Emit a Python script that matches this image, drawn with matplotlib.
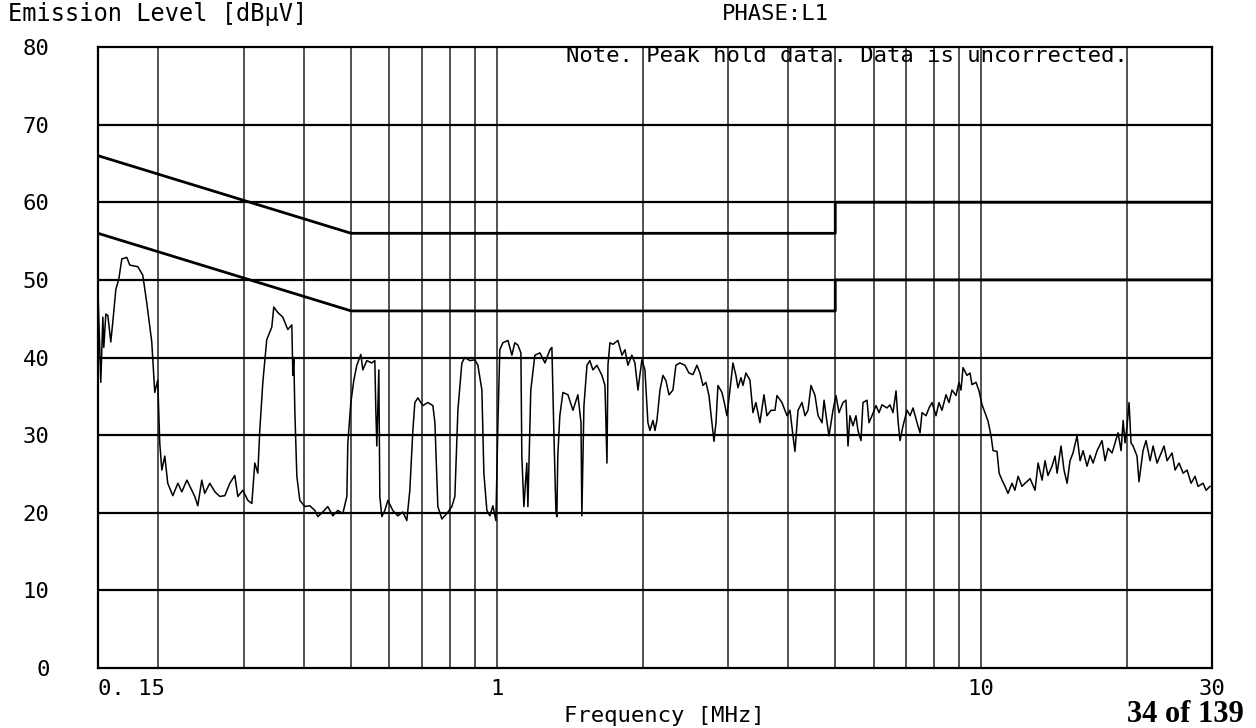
import matplotlib
matplotlib.use("Agg")
import matplotlib.pyplot as plt
from matplotlib.ticker import NullLocator

# peak-hold trace (MHz, dBuV)
freq_mhz = [
    0.150, 0.152, 0.1535, 0.1542, 0.1557, 0.1572, 0.1594, 0.1609, 0.1633, 0.1656,
    0.168, 0.172, 0.1745, 0.1813, 0.1856, 0.1891, 0.1937, 0.1965, 0.1993, 0.2012,
    0.2032, 0.2061, 0.209, 0.2141, 0.2193, 0.2235, 0.2289, 0.2343, 0.2377, 0.2411,
    0.2457, 0.2492, 0.2553, 0.2615, 0.2677, 0.2742, 0.2808, 0.2875, 0.2917, 0.2987,
    0.3059, 0.3118, 0.3162, 0.3208, 0.3238, 0.3285, 0.3347, 0.3428, 0.3461, 0.3527,
    0.3612, 0.3699, 0.3771, 0.3789, 0.3807, 0.3825, 0.3862, 0.3917, 0.4011, 0.4108,
    0.4207, 0.4268, 0.4370, 0.4474, 0.4583, 0.4693, 0.4806, 0.4899, 0.4922, 0.4993,
    0.5065, 0.5137, 0.5236, 0.5286, 0.5387, 0.5516, 0.5596, 0.5623, 0.5650, 0.5704,
    0.5731, 0.5786, 0.5869, 0.5953, 0.6096, 0.6243, 0.6393, 0.6516, 0.6610, 0.6706,
    0.6770, 0.6867, 0.7032, 0.7201, 0.7376, 0.7447, 0.7516, 0.7552, 0.7698, 0.7883,
    0.8073, 0.8189, 0.8307, 0.8466, 0.8588, 0.8794, 0.9006, 0.9136, 0.9312, 0.9400,
    0.9535, 0.9672, 0.9811, 0.9952, 1.005, 1.014, 1.029, 1.054, 1.074, 1.089,
    1.105, 1.121, 1.126, 1.137, 1.153, 1.159, 1.175, 1.198, 1.227, 1.257,
    1.287, 1.299, 1.311, 1.324, 1.330, 1.336, 1.349, 1.369, 1.402, 1.436,
    1.470, 1.492, 1.498, 1.513, 1.535, 1.556, 1.579, 1.609, 1.648, 1.672,
    1.688, 1.696, 1.712, 1.737, 1.778, 1.813, 1.839, 1.865, 1.900, 1.928,
    1.956, 1.993, 2.022, 2.051, 2.071, 2.101, 2.121, 2.141, 2.172, 2.203,
    2.235, 2.267, 2.310, 2.343, 2.388, 2.446, 2.493, 2.541, 2.590, 2.627,
    2.665, 2.703, 2.742, 2.781, 2.808, 2.835, 2.862, 2.917, 2.959, 2.987,
    3.030, 3.073, 3.117, 3.147, 3.192, 3.223, 3.269, 3.332, 3.380, 3.428,
    3.494, 3.562, 3.613, 3.683, 3.753, 3.789, 3.880, 3.974, 4.031, 4.089,
    4.128, 4.188, 4.268, 4.330, 4.392, 4.455, 4.541, 4.607, 4.695, 4.740,
    4.808, 4.853, 4.946, 5.017, 5.089, 5.187, 5.261, 5.312, 5.362, 5.439,
    5.517, 5.570, 5.650, 5.704, 5.814, 5.870, 5.954, 6.069, 6.156, 6.245,
    6.395, 6.486, 6.580, 6.675, 6.738, 6.803, 6.901, 7.034, 7.135, 7.237,
    7.377, 7.482, 7.553, 7.699, 7.809, 7.921, 8.072, 8.188, 8.306, 8.466,
    8.588, 8.711, 8.879, 9.006, 9.092, 9.180, 9.356, 9.491, 9.581, 9.765,
    9.906, 10.05, 10.19, 10.34, 10.49, 10.59, 10.79, 10.90, 11.05, 11.21,
    11.37, 11.59, 11.75, 11.93, 12.15, 12.33, 12.63, 12.93, 13.12, 13.37,
    13.56, 13.75, 14.02, 14.22, 14.36, 14.63, 14.84, 15.06, 15.27, 15.49,
    15.79, 16.02, 16.25, 16.56, 16.80, 17.04, 17.37, 17.78, 18.04, 18.30,
    18.65, 18.92, 19.19, 19.47, 19.66, 19.84, 20.03, 20.22, 20.41, 20.61,
    21.00, 21.20, 21.61, 21.92, 22.35, 22.67, 23.10, 23.55, 23.88, 24.23,
    24.81, 25.17, 25.65, 26.15, 26.65, 27.16, 27.68, 28.07, 28.75, 29.17, 29.72,
]
level_dbuv = [
    48.4, 36.8, 45.2, 41.3, 45.6, 45.4, 42.0, 44.5, 48.8, 50.1,
    52.7, 52.9, 51.9, 51.7, 50.6, 47.1, 42.0, 35.5, 37.1, 29.0,
    25.5, 27.3, 23.8, 22.2, 23.8, 22.7, 24.2, 22.9, 22.1, 20.9,
    24.2, 22.5, 23.8, 22.7, 22.1, 22.2, 23.8, 24.8, 22.1, 22.9,
    21.6, 21.2, 26.4, 25.1, 30.6, 36.8, 42.3, 43.9, 46.5, 45.8,
    45.2, 43.6, 44.2, 37.7, 40.0, 33.2, 24.7, 21.6, 20.8, 20.9,
    20.3, 19.5, 20.1, 20.8, 19.6, 20.3, 19.9, 22.1, 29.0, 34.2,
    37.1, 39.0, 40.4, 38.4, 39.6, 39.3, 39.6, 33.2, 28.6, 38.4,
    22.1, 19.5, 20.3, 21.6, 20.3, 19.6, 20.1, 19.0, 22.9, 30.6,
    34.2, 34.8, 33.8, 34.2, 33.8, 31.6, 24.7, 20.8, 19.2, 19.9,
    20.8, 22.1, 33.2, 39.3, 40.0, 39.6, 39.7, 39.0, 35.8, 25.1,
    20.3, 19.6, 20.9, 19.0, 31.6, 41.0, 41.9, 42.2, 40.3, 41.9,
    41.6, 40.6, 27.3, 20.8, 26.4, 20.8, 35.8, 40.3, 40.6, 39.3,
    41.0, 41.3, 30.6, 20.3, 19.5, 27.3, 32.5, 35.5, 35.2, 33.2,
    35.2, 31.6, 19.6, 33.8, 39.0, 39.6, 38.4, 39.0, 37.7, 36.4,
    26.4, 39.0, 41.9, 41.7, 42.2, 40.3, 41.0, 39.0, 40.3, 39.3,
    35.8, 39.7, 38.4, 31.6, 30.6, 31.9, 30.6, 31.9, 35.8, 37.7,
    37.0, 35.2, 35.8, 39.0, 39.3, 39.0, 38.0, 37.8, 39.0, 38.0,
    36.4, 36.8, 35.1, 31.6, 29.2, 31.6, 36.4, 35.5, 33.8, 32.5,
    35.8, 39.3, 37.7, 36.1, 37.4, 36.4, 38.0, 37.1, 32.9, 34.2,
    31.6, 35.2, 32.5, 33.2, 33.2, 35.1, 34.2, 32.5, 33.2, 29.9,
    27.9, 33.2, 34.2, 32.5, 33.2, 36.4, 35.1, 32.5, 31.6, 34.5,
    31.6, 29.9, 33.2, 35.1, 32.9, 34.2, 34.5, 28.6, 32.5, 31.2,
    32.5, 30.6, 29.3, 34.2, 34.5, 31.6, 32.5, 33.8, 32.9, 33.9,
    33.5, 33.9, 32.9, 35.7, 31.9, 29.3, 31.2, 33.2, 32.5, 33.5,
    31.6, 30.3, 32.9, 32.5, 33.5, 34.2, 32.5, 34.2, 33.2, 35.2,
    34.2, 35.8, 35.1, 36.8, 35.8, 38.7, 37.7, 38.0, 36.5, 36.8,
    35.7, 33.9, 32.9, 31.8, 29.9, 28.0, 27.9, 25.1, 24.2, 23.4,
    22.5, 23.8, 22.9, 24.7, 23.4, 23.8, 24.4, 22.9, 26.4, 24.2,
    26.7, 24.8, 26.0, 27.3, 25.1, 28.6, 25.5, 23.8, 26.7, 27.7,
    29.9, 26.7, 28.0, 26.0, 27.4, 26.4, 28.0, 29.3, 26.7, 28.3,
    27.7, 29.0, 30.3, 28.0, 31.9, 29.0, 31.2, 34.2, 29.0, 28.6,
    27.3, 24.0, 28.0, 29.3, 26.7, 28.6, 26.4, 27.7, 28.6, 26.7,
    27.7, 25.5, 26.4, 25.1, 25.5, 23.8, 24.7, 23.4, 23.8, 22.9, 23.4,
]

# limit lines (quasi-peak and average)
limit_freq = [0.15, 0.5, 0.5, 5.0, 5.0, 30.0]
qp_limit = [66, 56, 56, 56, 60, 60]
av_limit = [56, 46, 46, 46, 50, 50]

grid_freqs = [0.2, 0.3, 0.4, 0.5, 0.6, 0.7, 0.8, 0.9, 1, 2, 3, 4, 5, 6, 7, 8, 9, 10, 20]
grid_levels = [10, 20, 30, 40, 50, 60, 70]
x_ticks = [0.15, 1, 10, 30]
x_labels = ["0. 15", "1", "10", "30"]
y_ticks = [0, 10, 20, 30, 40, 50, 60, 70, 80]

W, H = 1256, 728
mono = "DejaVu Sans Mono"

fig = plt.figure(figsize=(W / 100, H / 100), dpi=100)
fig.patch.set_facecolor("white")
left, right, top, bottom = 98, 1212, 47, 668
ax = fig.add_axes([left / W, 1 - bottom / H, (right - left) / W, (bottom - top) / H])

ax.set_xscale("log")
ax.set_xlim(0.15, 30)
ax.set_ylim(0, 80)

ax.vlines(grid_freqs, 0, 80, colors="#222222", linewidth=1.1, zorder=1)
ax.hlines(grid_levels, 0.15, 30, colors="black", linewidth=1.6, zorder=1)

ax.plot(limit_freq, qp_limit, color="black", linewidth=2.0, zorder=3)
ax.plot(limit_freq, av_limit, color="black", linewidth=2.0, zorder=3)
ax.plot(freq_mhz, level_dbuv, color="black", linewidth=1.1, zorder=4)

for sp in ax.spines.values():
    sp.set_linewidth(1.6)
    sp.set_color("black")

ax.xaxis.set_minor_locator(NullLocator())
ax.set_xticks(x_ticks, x_labels)
ax.set_yticks(y_ticks, [str(v) for v in y_ticks])
ax.tick_params(axis="both", length=0, labelsize=16)
ax.tick_params(axis="x", pad=8)
ax.tick_params(axis="y", pad=35)
for lab in ax.get_xticklabels() + ax.get_yticklabels():
    lab.set_fontfamily(mono)
xl = ax.get_xticklabels()
xl[0].set_horizontalalignment("left")

ax.text((566 - left) / (right - left), 0.985, "Note. Peak hold data. Data is uncorrected.",
        transform=ax.transAxes, family=mono, fontsize=16, va="center", ha="left")

fig.text(8 / W, 1 - 14 / H, "Emission Level [dB\u03bcV]", family=mono, fontsize=17,
         ha="left", va="center")
fig.text(775 / W, 1 - 14 / H, "PHASE:L1", family=mono, fontsize=16, ha="center", va="center")
fig.text(664 / W, 1 - 716 / H, "Frequency [MHz]", family=mono, fontsize=16,
         ha="center", va="center")
fig.text(1244 / W, 1 - 715 / H, "34 of 139", family="Liberation Serif", fontweight="bold",
         fontsize=22, ha="right", va="center")

fig.savefig("out.png", dpi=100)
